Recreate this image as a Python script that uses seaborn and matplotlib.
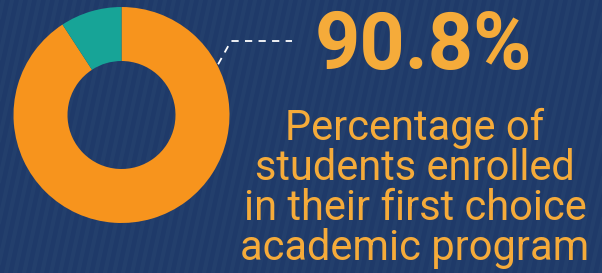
import matplotlib
matplotlib.use("Agg")
import matplotlib.pyplot as plt
import seaborn as sns
import numpy as np

# data
labels = ["First choice", "Other"]
shares = [90.8, 9.2]
headline = "90.8%"
caption_lines = ["Percentage of", "students enrolled", "in their first choice", "academic program"]

navy = "#1f3a69"
stripe = "#26436f"
orange = "#f7941d"
teal = "#17a497"
text_orange = "#f5ab3a"

sns.set_style("white")
plt.rcParams["font.family"] = ["Roboto", "DejaVu Sans"]

fig = plt.figure(figsize=(6.02, 2.73), dpi=100)
fig.patch.set_facecolor(navy)

# striped background
bg = fig.add_axes([0, 0, 1, 1])
bg.set_xlim(0, 602)
bg.set_ylim(0, 273)
bg.axis("off")
for x0 in np.arange(-120, 640, 9):
    bg.plot([x0, x0 + 60], [0, 273], color=stripe, lw=3, alpha=0.6, zorder=0)

# donut
ax = fig.add_axes([13 / 602, 1 - 223 / 273, 217 / 602, 216 / 273])
ax.pie(shares, colors=[orange, teal], startangle=90, counterclock=False,
       wedgeprops=dict(width=0.5, edgecolor="none"))
ax.set_xlim(-1, 1)
ax.set_ylim(-1, 1)
ax.set_aspect("equal")
ax.axis("off")

# dashed leader line
bg.plot([205, 231, 292], [273 - 88, 273 - 41, 273 - 41], color="white",
        lw=1.3, ls=(0, (4, 3.5)), zorder=3)

# text
bg.text(423, 273 - 47, headline, color=text_orange, fontsize=57, fontweight="bold",
        ha="center", va="center", zorder=4)
baselines = [140, 180, 220, 260]
for line, yb in zip(caption_lines, baselines):
    bg.text(415, 273 - yb, line, color=text_orange, fontsize=30,
            ha="center", va="baseline", zorder=4)

fig.savefig("out.png", dpi=100, facecolor=navy)
